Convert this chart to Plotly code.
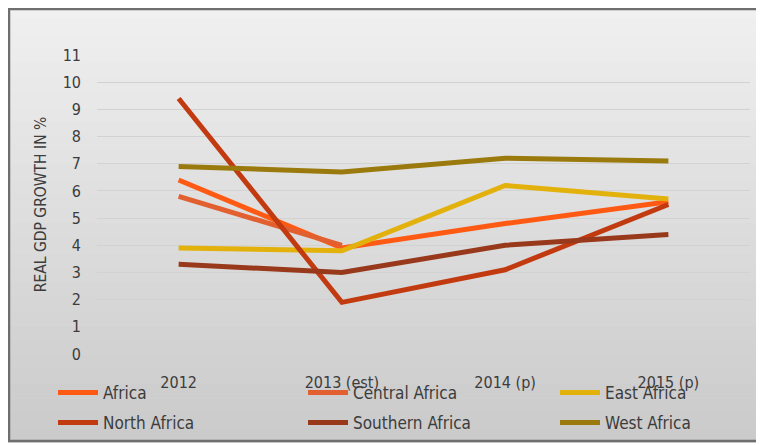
import plotly.graph_objects as go

years = ["2012", "2013 (est)", "2014 (p)", "2015 (p)"]
africa = [6.4, 3.9, 4.8, 5.6]
central_africa = [5.8, 4.0, None, None]
east_africa = [3.9, 3.8, 6.2, 5.7]
north_africa = [9.4, 1.9, 3.1, 5.5]
southern_africa = [3.3, 3.0, 4.0, 4.4]
west_africa = [6.9, 6.7, 7.2, 7.1]
y_ticks = list(range(0, 12))

names = ["Africa", "Central Africa", "East Africa",
         "North Africa", "Southern Africa", "West Africa"]
values = [africa, central_africa, east_africa,
          north_africa, southern_africa, west_africa]
colors = ["#FF5A14", "#E2602F", "#E3B10C", "#C23A10", "#99391C", "#9A7A0C"]

FONT = "Liberation Sans Narrow, DejaVu Sans Condensed, Arial Narrow, sans-serif"
TXT = "#3C3C3C"

# page has an 8px body offset; work in page pixels
OFF = 8
W, H = 764 - OFF, 445 - OFF
L, R, T, B = 97, 750, 55, 354  # plot area in page pixels
pw, ph = R - L, B - T

def px_x(p):
    return (p - L) / pw

def px_y(p):
    return (B - p) / ph

def cx(p):
    return (p - OFF) / W

def cy(p):
    return 1 - (p - OFF) / H

legend_cols = [53, 303, 555]
legend_rows = [375, 405]

fig = go.Figure()
legends = {}
for i, (name, vals, col) in enumerate(zip(names, values, colors)):
    lid = "legend" if i == 0 else f"legend{i + 1}"
    fig.add_trace(go.Scatter(x=years, y=vals, name=name, mode="lines",
                             line=dict(color=col, width=5), legend=lid,
                             showlegend=True))
    legends[lid] = dict(orientation="h", xref="container", yref="container",
                        x=cx(legend_cols[i % 3]), y=cy(legend_rows[i // 3]),
                        xanchor="left", yanchor="top", itemwidth=40,
                        bgcolor="rgba(0,0,0,0)", font=dict(size=17, color=TXT))

shapes = []
n = 30
top_px, bot_px = 4, 442
c0, c1 = 0xF0, 0xCB
for i in range(n):
    y0 = top_px + (bot_px - top_px) * i / n
    y1 = top_px + (bot_px - top_px) * (i + 1) / n + 0.5
    c = int(c0 + (c1 - c0) * i / (n - 1))
    shapes.append(dict(type="rect", xref="paper", yref="paper",
                       x0=px_x(7), x1=px_x(770), y0=px_y(y1), y1=px_y(y0),
                       fillcolor=f"rgb({c},{c},{c})", line=dict(width=0),
                       layer="below"))
shapes.append(dict(type="rect", xref="paper", yref="paper",
                   x0=px_x(9), x1=px_x(775), y0=px_y(441), y1=px_y(9),
                   line=dict(color="#6E6E6E", width=2.5), fillcolor="rgba(0,0,0,0)",
                   layer="above"))

fig.update_layout(
    width=W, height=H,
    showlegend=True,
    margin=dict(l=L - OFF, r=(W + OFF) - R, t=T - OFF, b=(H + OFF) - B,
                autoexpand=False),
    paper_bgcolor="#FFFFFF",
    plot_bgcolor="rgba(0,0,0,0)",
    font=dict(family=FONT, size=16, color=TXT),
    shapes=shapes,
    xaxis=dict(type="category", range=[-0.5, 3.5], showgrid=False, zeroline=False,
               showline=False, ticks="", tickfont=dict(size=16, color=TXT),
               ticklabelstandoff=17),
    yaxis=dict(range=[0, 11], tickvals=y_ticks, showgrid=True,
               gridcolor="#D2D2D2", gridwidth=1.2, zeroline=False, showline=False,
               ticks="", tickfont=dict(size=16, color=TXT), ticklabelstandoff=15,
               title=dict(text="REAL GDP GROWTH IN %", standoff=12,
                          font=dict(size=15.5, color=TXT))),
    **legends,
)

fig.write_html("out.html")
